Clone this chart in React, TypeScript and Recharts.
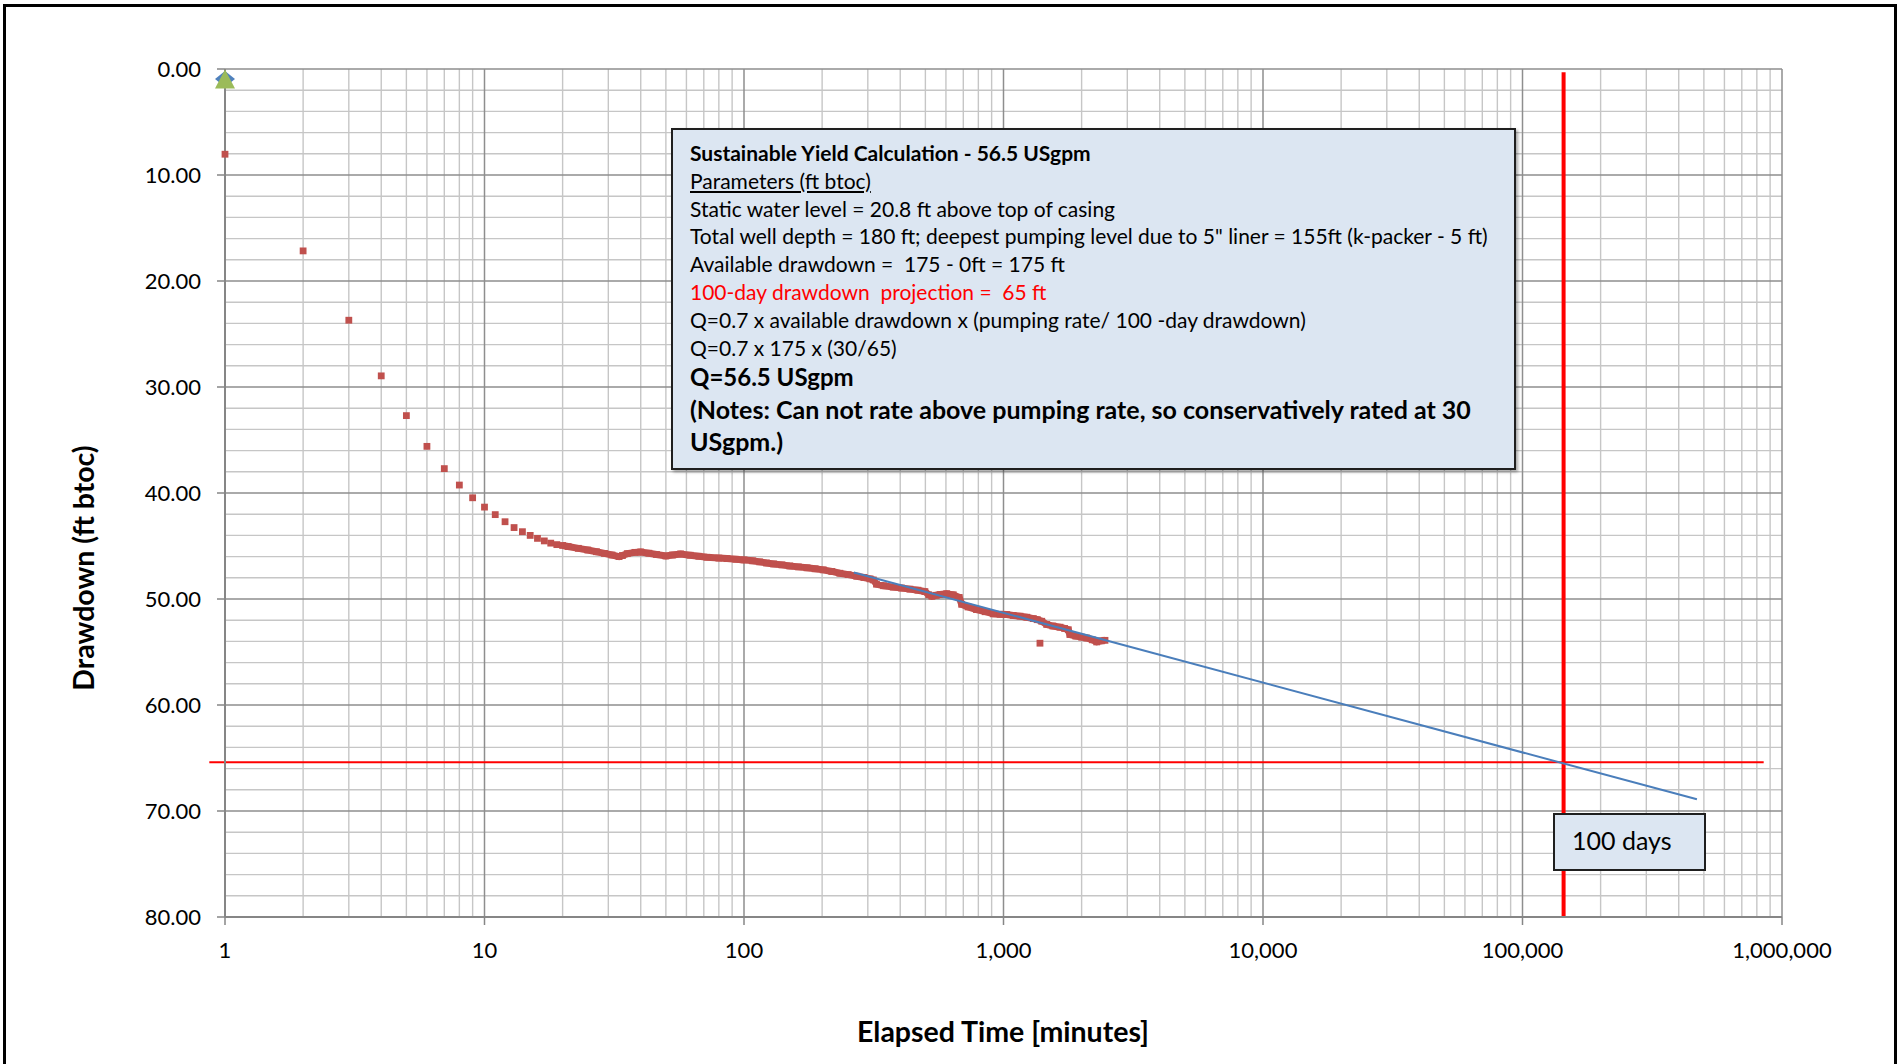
import { CartesianGrid, ReferenceLine, Scatter, ScatterChart, XAxis, YAxis } from 'recharts'

// axis ticks
const xTicks = [1, 10, 100, 1000, 10000, 100000, 1000000]
const yTicks = [0, 10, 20, 30, 40, 50, 60, 70, 80]

// early readings (minutes, ft)
const earlyTimes = [1, 2, 3, 4, 5, 6, 7, 8, 9, 10, 11, 12, 13, 14, 15, 16, 17, 18, 19]
const earlyDrawdown = [
  8.04, 17.16, 23.7, 28.95, 32.7, 35.6, 37.7, 39.25, 40.45, 41.33, 42.04, 42.71, 43.26, 43.65,
  44.0, 44.28, 44.52, 44.73, 44.87,
]

// dense logger readings, merge into a band on the log axis
const bandTimes = [
  20, 21, 23, 25, 27, 29, 31, 33, 34, 35.5, 38, 40, 43, 46, 50, 53, 57, 62, 67, 72, 80, 86, 93,
  100, 108, 115, 122, 130, 140, 150, 162, 175, 188, 202, 218, 234, 252, 272, 290, 306, 315, 324,
  345, 376, 405, 436, 468, 498, 515, 530, 550, 570, 604, 640, 675, 690, 730, 787, 850, 913, 970,
  1029, 1090, 1158, 1230, 1303, 1350, 1404, 1467, 1550, 1651, 1720, 1777, 1802, 1900, 2000, 2092,
  2200, 2286, 2380, 2461,
]
const bandDrawdown = [
  44.95, 45.05, 45.22, 45.38, 45.54, 45.7, 45.85, 46.0, 45.9, 45.72, 45.6, 45.56, 45.68, 45.8,
  45.94, 45.85, 45.75, 45.87, 45.97, 46.06, 46.14, 46.19, 46.25, 46.31, 46.4, 46.5, 46.6, 46.69,
  46.78, 46.88, 46.97, 47.06, 47.15, 47.25, 47.4, 47.57, 47.7, 47.85, 47.97, 48.1, 48.2, 48.6,
  48.75, 48.88, 48.97, 49.07, 49.17, 49.3, 49.6, 49.74, 49.65, 49.58, 49.5, 49.6, 49.85, 50.5,
  50.75, 51.0, 51.2, 51.4, 51.45, 51.47, 51.55, 51.62, 51.72, 51.85, 51.95, 52.1, 52.4, 52.55,
  52.66, 52.78, 52.9, 53.35, 53.5, 53.6, 53.68, 53.85, 54.05, 53.95, 53.9,
]
const outlierTimes = [1382]
const outlierDrawdown = [54.17]

// straight-line projection
const trendTimes = [265, 470000]
const trendDrawdown = [47.5, 68.9]

// static level markers
const staticTimes = [1]
const staticDrawdown = [0.95]

// 100-day projection guides
const projectionMinutes = 144000
const projectedDrawdown = 65.4
const hLineFrom = 0.87
const hLineTo = 850000

const toPoints = (ts: number[], ds: number[]) => ts.map((t, i) => ({ t, d: ds[i] }))

const earlyData = toPoints(earlyTimes, earlyDrawdown)
const bandData = toPoints(bandTimes, bandDrawdown)
const outlierData = toPoints(outlierTimes, outlierDrawdown)
const trendData = toPoints(trendTimes, trendDrawdown)
const staticData = toPoints(staticTimes, staticDrawdown)

const minorX = xTicks.slice(0, -1).flatMap((d) => [2, 3, 4, 5, 6, 7, 8, 9].map((k) => k * d))
const minorY = yTicks.slice(0, -1).flatMap((v) => [2, 4, 6, 8].map((k) => v + k))

const RED = '#C0504D'
const FONT = 'Lato, "Noto Sans", sans-serif'

const Square = (p: any) => (
  <rect x={p.cx - 3.4} y={p.cy - 3.4} width={6.8} height={6.8} fill={RED} />
)

const Diamond = (p: any) => (
  <path
    d={`M${p.cx - 10},${p.cy} L${p.cx},${p.cy - 8} L${p.cx + 10},${p.cy} L${p.cx},${p.cy + 8} Z`}
    fill="#4F81BD"
  />
)

const Triangle = (p: any) => (
  <path
    d={`M${p.cx},${p.cy - 9.5} L${p.cx + 10},${p.cy + 9.5} L${p.cx - 10},${p.cy + 9.5} Z`}
    fill="#9BBB59"
  />
)

const fmtX = (v: number) => v.toLocaleString('en-US')
const fmtY = (v: number) => v.toFixed(2)

const boxLine = (extra?: React.CSSProperties): React.CSSProperties => ({
  height: 27.8,
  lineHeight: '27.8px',
  whiteSpace: 'nowrap',
  ...extra,
})

const bigLine = (size: number): React.CSSProperties => ({
  fontWeight: 700,
  fontSize: size,
  height: 32,
  lineHeight: '32px',
  whiteSpace: 'nowrap',
})

export default function App() {
  return (
    <div
      style={{
        position: 'absolute',
        left: 0,
        top: 0,
        width: 1898,
        height: 1064,
        overflow: 'hidden',
        background: '#fff',
        fontFamily: FONT,
      }}
    >
      <div
        style={{
          position: 'absolute',
          left: 3,
          top: 4,
          width: 1894,
          height: 1080,
          border: '3px solid #000',
          boxSizing: 'border-box',
        }}
      />
      <div style={{ position: 'absolute', left: 0, top: 0 }}>
        <ScatterChart
          width={1898}
          height={1064}
          margin={{ top: 69, right: 116, bottom: 87, left: 125 }}
        >
          <CartesianGrid
            verticalValues={minorX}
            horizontalValues={minorY}
            stroke="#C6C6C6"
            strokeWidth={1.4}
          />
          <CartesianGrid
            verticalValues={xTicks}
            horizontalValues={yTicks}
            stroke="#8E8E8E"
            strokeWidth={1.5}
          />
          <XAxis
            type="number"
            dataKey="t"
            scale="log"
            domain={[1, 1000000]}
            ticks={xTicks}
            tickFormatter={fmtX}
            height={60}
            tickSize={8}
            tickMargin={17}
            axisLine={{ stroke: '#868686', strokeWidth: 2 }}
            tickLine={{ stroke: '#868686', strokeWidth: 1.5 }}
            tick={{ fill: '#000', fontSize: 22, fontFamily: FONT }}
            interval={0}
          />
          <YAxis
            type="number"
            dataKey="d"
            reversed
            domain={[0, 80]}
            ticks={yTicks}
            tickFormatter={fmtY}
            width={100}
            tickSize={8}
            tickMargin={16}
            axisLine={{ stroke: '#868686', strokeWidth: 2 }}
            tickLine={{ stroke: '#868686', strokeWidth: 1.5 }}
            tick={{ fill: '#000', fontSize: 22, fontFamily: FONT }}
            interval={0}
          />
          <Scatter data={earlyData} shape={Square} isAnimationActive={false} />
          <Scatter
            data={bandData}
            shape={Square}
            fill={RED}
            line={{ stroke: RED, strokeWidth: 7 }}
            isAnimationActive={false}
          />
          <Scatter data={outlierData} shape={Square} isAnimationActive={false} />
          <Scatter
            data={trendData}
            shape={() => <g />}
            line={{ stroke: '#4A7EBB', strokeWidth: 2 }}
            isAnimationActive={false}
          />
          <ReferenceLine
            segment={[
              { x: hLineFrom, y: projectedDrawdown },
              { x: hLineTo, y: projectedDrawdown },
            ]}
            stroke="#FF0000"
            strokeWidth={2}
            ifOverflow="visible"
          />
          <ReferenceLine
            segment={[
              { x: projectionMinutes, y: 0.3 },
              { x: projectionMinutes, y: 80 },
            ]}
            stroke="#FF0000"
            strokeWidth={4}
            ifOverflow="visible"
          />
          <Scatter data={staticData} shape={Diamond} isAnimationActive={false} />
          <Scatter data={staticData} shape={Triangle} isAnimationActive={false} />
        </ScatterChart>
      </div>

      {/* axis titles */}
      <div
        style={{
          position: 'absolute',
          left: 83,
          top: 568,
          transform: 'translate(-50%, -50%) rotate(-90deg)',
          fontWeight: 700,
          fontSize: 28.5,
          whiteSpace: 'nowrap',
        }}
      >
        Drawdown (ft btoc)
      </div>
      <div
        style={{
          position: 'absolute',
          left: 1003,
          top: 1031,
          transform: 'translate(-50%, -50%)',
          fontWeight: 700,
          fontSize: 28.5,
          whiteSpace: 'nowrap',
        }}
      >
        Elapsed Time [minutes]
      </div>

      {/* calculation note */}
      <div
        style={{
          position: 'absolute',
          left: 671,
          top: 128,
          width: 845,
          height: 342,
          boxSizing: 'border-box',
          border: '2px solid #1F1F1F',
          background: '#DCE6F2',
          boxShadow: '2px 2px 3px rgba(0,0,0,0.35)',
          padding: '9px 0 0 17px',
          fontSize: 21,
          color: '#000',
        }}
      >
        <div style={boxLine({ fontWeight: 700 })}>Sustainable Yield Calculation - 56.5 USgpm</div>
        <div style={boxLine({ textDecoration: 'underline' })}>Parameters (ft btoc)</div>
        <div style={boxLine()}>Static water level = 20.8 ft above top of casing</div>
        <div style={boxLine()}>
          Total well depth = 180 ft; deepest pumping level due to 5" liner = 155ft (k-packer - 5 ft)
        </div>
        <div style={boxLine()}>Available drawdown =&nbsp; 175 - 0ft = 175 ft</div>
        <div style={boxLine({ color: '#FF0000' })}>
          100-day drawdown&nbsp; projection =&nbsp; 65 ft
        </div>
        <div style={boxLine()}>Q=0.7 x available drawdown x (pumping rate/ 100 -day drawdown)</div>
        <div style={boxLine()}>Q=0.7 x 175 x (30/65)</div>
        <div style={bigLine(24)}>Q=56.5 USgpm</div>
        <div style={bigLine(25)}>
          (Notes: Can not rate above pumping rate, so conservatively rated at 30
        </div>
        <div style={bigLine(25)}>USgpm.)</div>
      </div>

      {/* projection label */}
      <div
        style={{
          position: 'absolute',
          left: 1553,
          top: 813,
          width: 153,
          height: 58,
          boxSizing: 'border-box',
          border: '2px solid #1F1F1F',
          background: '#DCE6F2',
          paddingLeft: 17,
          fontSize: 25,
          lineHeight: '50px',
          whiteSpace: 'nowrap',
        }}
      >
        100 days
      </div>
    </div>
  )
}
